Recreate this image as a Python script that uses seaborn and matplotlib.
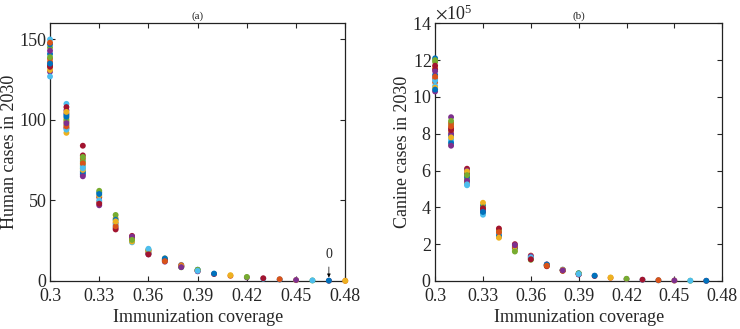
import matplotlib
matplotlib.use("Agg")
import matplotlib.pyplot as plt
import numpy as np
import pandas as pd
import seaborn as sns

# Immunization coverage levels (x) and simulated 2030 cases
coverage = [0.30, 0.31, 0.32, 0.33, 0.34, 0.35, 0.36, 0.37, 0.38, 0.39,
            0.40, 0.41, 0.42, 0.43, 0.44, 0.45, 0.46, 0.47, 0.48]

human_cases = [
    [141, 136, 133, 130, 145, 150, 134, 147, 138, 131, 143, 139, 127, 133, 135, 148],
    [101, 104, 97, 110, 95, 103, 99, 92, 106, 100, 94, 108, 102, 96, 105, 98],
    [72, 75, 84, 68, 76, 70, 66, 74, 71, 78, 67, 73, 69, 65, 77, 70],
    [52, 55, 49, 53, 47, 56, 50, 48, 54],
    [36, 39, 33, 41, 35, 32, 38, 34, 37],
    [26, 27, 24, 28, 25, 26.5, 24.5, 27.5, 25.5],
    [18, 19, 17, 17.5, 18.5, 16.5, 19.5, 20, 16.5],
    [13, 12.5, 14, 12, 13.5, 12.8, 13.2, 14, 12.3],
    [9, 9.5, 8.5, 10, 9.2, 8.8, 9.8, 9.1, 8.6],
    [6.5, 6.8, 6.2, 7, 6.4, 6.6, 6, 6.9, 6.3],
    [4.3, 4.6],
    [3.2, 3.6],
    [2.2, 2.5],
    [1.4, 1.7],
    [0.9, 1.1],
    [0.5, 0.6],
    [0.3, 0.35],
    [0.15, 0.2],
    [0.08, 0.1],
]

# canine cases, in units of 1e5
canine_cases_1e5 = [
    [11.2, 10.8, 11.6, 10.3, 11.9, 10.6, 11.5, 12.1, 11.0, 10.5, 11.4, 12.0, 10.9, 11.7, 10.4, 11.1],
    [8.1, 8.9, 8.5, 7.6, 8.3, 7.9, 8.6, 7.4, 8.0, 8.7, 7.7, 8.2, 7.5, 8.4, 7.8, 7.35],
    [5.7, 5.4, 6.1, 5.9, 5.3, 5.6, 6.0, 5.5, 5.2, 5.8, 5.65, 5.35, 5.95, 5.45, 5.75, 5.25],
    [3.9, 4.1, 3.7, 4.25, 3.8, 4.0, 3.6, 3.95, 3.75],
    [2.6, 2.8, 2.4, 2.7, 2.5, 2.85, 2.45, 2.65, 2.35],
    [1.8, 1.9, 1.7, 2.0, 1.75, 1.85, 1.65, 1.95, 1.6],
    [1.25, 1.3, 1.2, 1.38, 1.22, 1.35, 1.15, 1.28, 1.18],
    [0.85, 0.88, 0.82, 0.9, 0.84, 0.87, 0.8, 0.89, 0.83],
    [0.58, 0.6, 0.56, 0.62, 0.57, 0.59, 0.55, 0.61, 0.58],
    [0.38, 0.4, 0.36, 0.42, 0.37, 0.39, 0.35, 0.41, 0.38],
    [0.27, 0.29],
    [0.17, 0.19],
    [0.10, 0.12],
    [0.06, 0.07],
    [0.035, 0.045],
    [0.02, 0.025],
    [0.012, 0.015],
    [0.008, 0.01],
]

x_ticks = [0.30, 0.33, 0.36, 0.39, 0.42, 0.45, 0.48]
x_tick_labels = ["0.3", "0.33", "0.36", "0.39", "0.42", "0.45", "0.48"]

# MATLAB default colour order
matlab_colors = ["#0072BD", "#D95319", "#EDB120", "#7E2F8E", "#77AC30", "#4DBEEE", "#A2142F"]


def to_frame(values, scale=1.0):
    rows = []
    for k, col in enumerate(values):
        for j, v in enumerate(col):
            # colour cycles as in a loop of 100 runs per coverage level
            rows.append({"coverage": coverage[k], "cases": v * scale,
                         "c": f"c{(2 * k + j) % 7}"})
    return pd.DataFrame(rows)


sns.set_style("ticks")
plt.rcParams["font.family"] = ["Liberation Serif", "DejaVu Serif"]
plt.rcParams["mathtext.fontset"] = "stix"
plt.rcParams["xtick.direction"] = "in"
plt.rcParams["ytick.direction"] = "in"
plt.rcParams["xtick.top"] = True
plt.rcParams["ytick.right"] = True

palette = {f"c{i}": c for i, c in enumerate(matlab_colors)}
hue_order = [f"c{i}" for i in range(7)]
FS = 13

fig = plt.figure(figsize=(7.4, 3.29), dpi=100)
ax_a = fig.add_axes([0.0676, 0.146, 0.399, 0.783])
ax_b = fig.add_axes([0.588, 0.146, 0.388, 0.783])

df_a = to_frame(human_cases)
sns.scatterplot(data=df_a, x="coverage", y="cases", hue="c", hue_order=hue_order,
                palette=palette, s=18, linewidth=0, legend=False, ax=ax_a,
                clip_on=False, zorder=3)
ax_a.set_ylim(0, 160)
ax_a.set_yticks([0, 50, 100, 150])
ax_a.set_ylabel("Human cases in 2030", fontsize=FS, labelpad=1)
ax_a.set_title("(a)", fontsize=8, pad=3)
ax_a.annotate("0", xy=(0.47, 2.2), xytext=(0.47, 16.5), fontsize=10,
              ha="center", va="center",
              arrowprops=dict(arrowstyle="-|>", lw=0.5, color="black",
                              mutation_scale=5, shrinkA=2, shrinkB=0))

df_b = to_frame(canine_cases_1e5, scale=1e5)
sns.scatterplot(data=df_b, x="coverage", y="cases", hue="c", hue_order=hue_order,
                palette=palette, s=18, linewidth=0, legend=False, ax=ax_b,
                clip_on=False, zorder=3)
ax_b.set_ylim(0, 14e5)
ax_b.set_yticks(np.arange(0, 15e5, 2e5))
ax_b.ticklabel_format(axis="y", style="sci", scilimits=(5, 5), useMathText=True)
ax_b.yaxis.get_offset_text().set_fontsize(FS)
ax_b.set_ylabel("Canine cases in 2030", fontsize=FS, labelpad=1)
ax_b.set_title("(b)", fontsize=8, pad=3)

for ax in (ax_a, ax_b):
    ax.set_xlim(0.30, 0.48)
    ax.set_xticks(x_ticks)
    ax.set_xticklabels(x_tick_labels)
    ax.set_xlabel("Immunization coverage", fontsize=FS, labelpad=3)
    ax.tick_params(labelsize=FS, length=3.5, width=0.8, pad=2.5)
    ax.tick_params(axis="x", pad=5)
    for sp in ax.spines.values():
        sp.set_visible(True)
        sp.set_linewidth(0.9)
        sp.set_color("#222222")

fig.savefig("out.png", dpi=100)
